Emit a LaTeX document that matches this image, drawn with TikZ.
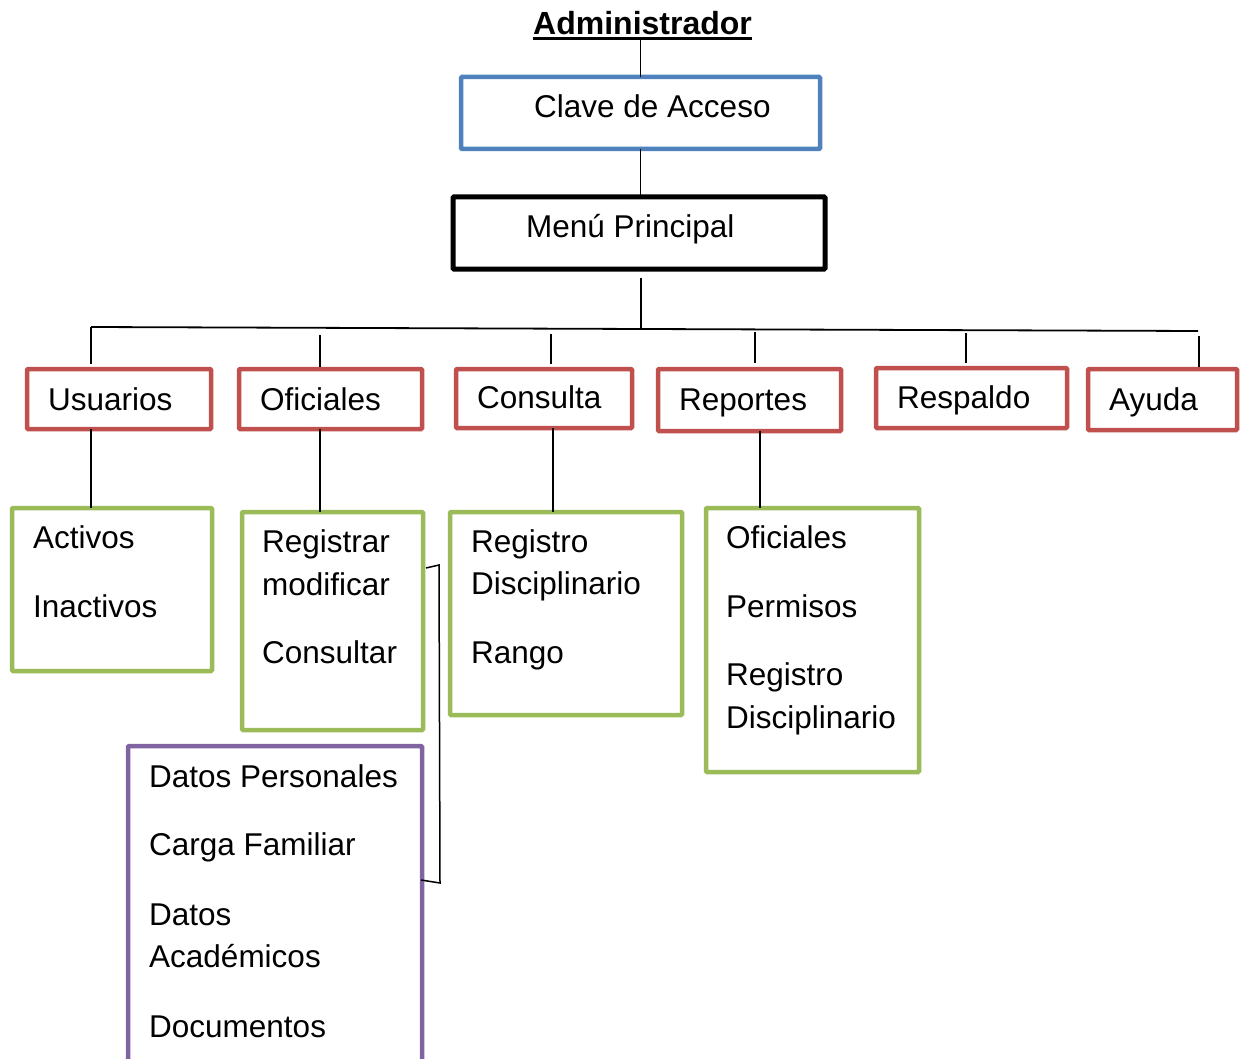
\documentclass[tikz,border=0pt]{standalone}
\usepackage{fontspec}
\setmainfont{Liberation Sans}
\definecolor{cblue}{HTML}{4F81BD}
\definecolor{cred}{HTML}{C0504D}
\definecolor{cgreen}{HTML}{9BBB59}
\definecolor{cpurple}{HTML}{8064A2}
\begin{document}
\begin{tikzpicture}[x=1pt,y=-1pt,
  box/.style={draw,line width=4.5pt,inner sep=0pt,outer sep=0pt,anchor=north west,rounded corners=1pt},
  lbl/.style={anchor=base west,inner sep=0pt,font=\fontsize{31.5}{38}\selectfont},
  conn/.style={line width=1.8pt}]
\useasboundingbox (0,0) rectangle (1241,1059);
% boxes
\node[box,draw=cblue,minimum width=359pt,minimum height=72pt] (clave) at (461,77) {};
\node[box,draw=black,line width=5pt,minimum width=372pt,minimum height=72pt] (menu) at (453,197) {};
\node[box,draw=cred,minimum width=184pt,minimum height=60pt] (usr) at (27,369) {};
\node[box,draw=cred,minimum width=183pt,minimum height=60pt] (ofi) at (239,369) {};
\node[box,draw=cred,minimum width=176pt,minimum height=59pt] (con) at (456,369) {};
\node[box,draw=cred,minimum width=183pt,minimum height=62pt] (rep) at (658,369) {};
\node[box,draw=cred,minimum width=191pt,minimum height=60pt] (res) at (876,368) {};
\node[box,draw=cred,minimum width=149pt,minimum height=61pt] (ayu) at (1088,369) {};
\node[box,draw=cgreen,minimum width=200pt,minimum height=163pt] (g1) at (12,508) {};
\node[box,draw=cgreen,minimum width=181pt,minimum height=218pt] (g2) at (242,512) {};
\node[box,draw=cgreen,minimum width=232pt,minimum height=203pt] (g3) at (450,512) {};
\node[box,draw=cgreen,minimum width=213pt,minimum height=264pt] (g4) at (706,508) {};
\node[box,draw=cpurple,minimum width=294pt,minimum height=330pt] (pur) at (128,746) {};
% title
\node[lbl,font=\bfseries\fontsize{32}{38}\selectfont] (adm) at (533,35) {Administrador};
\draw[line width=3pt] ([yshift=-4pt]adm.base west) -- ([yshift=-4pt]adm.base east);
% labels
\node[lbl] (tclave) at (534,118) {Clave de Acceso};
\node[lbl] (tmenu) at (526,237) {Menú Principal};
\node[lbl] (tusr) at (48,410) {Usuarios};
\node[lbl] (tofi) at (260,410) {Oficiales};
\node[lbl] (tcon) at (477,408) {Consulta};
\node[lbl] (trep) at (679,410) {Reportes};
\node[lbl] (tres) at (897,408) {Respaldo};
\node[lbl] (tayu) at (1109,410) {Ayuda};
\node[lbl] (g1a) at (33,548) {Activos};
\node[lbl] (g1b) at (33,617) {Inactivos};
\node[lbl] (g2a) at (262,552) {Registrar};
\node[lbl] (g2b) at (262,595) {modificar};
\node[lbl] (g2c) at (262,663) {Consultar};
\node[lbl] (g3a) at (471,552) {Registro};
\node[lbl] (g3b) at (471,594) {Disciplinario};
\node[lbl] (g3c) at (471,663) {Rango};
\node[lbl] (g4a) at (726,548) {Oficiales};
\node[lbl] (g4b) at (726,617) {Permisos};
\node[lbl] (g4c) at (726,685) {Registro};
\node[lbl] (g4d) at (726,728) {Disciplinario};
\node[lbl] (p1) at (149,787) {Datos Personales};
\node[lbl] (p2) at (149,855) {Carga Familiar};
\node[lbl] (p3) at (149,925) {Datos};
\node[lbl] (p4) at (149,967) {Académicos};
\node[lbl] (p5) at (149,1037) {Documentos};
% coordinates
\coordinate (busL) at (91,327);
\coordinate (busR) at (1198,331);
\coordinate (busM) at (641,329);
\coordinate (tOfi) at (320,335);
\coordinate (tCon) at (551,334);
\coordinate (tRep) at (755,332);
\coordinate (tRes) at (966,333);
\coordinate (tAyu) at (1199,336);
\coordinate (xU) at (91,0);
\coordinate (xO) at (320,0);
\coordinate (xC) at (553,0);
\coordinate (xR) at (760,0);
\coordinate (b1) at (426,568);
\coordinate (b2) at (439,565);
\coordinate (b3) at (440,883);
\coordinate (b4) at (421,880);
% connectors
\draw[conn] ([yshift=-5pt]adm.base -| clave.north) -- (clave.north);
\draw[conn] (clave.south) -- ([yshift=-2pt]clave.south |- menu.north);
\draw[conn] ([yshift=-9pt]menu.south -| busM) -- (busM);
\draw[conn] (busL) -- (busR);
\draw[conn] (busL) -- ([yshift=5pt]busL |- usr.north);
\draw[conn] (tOfi) -- ([yshift=2pt]tOfi |- ofi.north);
\draw[conn] (tCon) -- ([yshift=5pt]tCon |- con.north);
\draw[conn] (tRep) -- ([yshift=6pt]tRep |- rep.north);
\draw[conn] (tRes) -- ([yshift=5pt]tRes |- res.north);
\draw[conn] (tAyu) -- ([yshift=2pt]tAyu |- ayu.north);
\draw[conn] (usr.south -| xU) -- (g1.north -| xU);
\draw[conn] (ofi.south -| xO) -- (g2.north -| xO);
\draw[conn] (con.south -| xC) -- (g3.north -| xC);
\draw[conn] (rep.south -| xR) -- (g4.north -| xR);
\draw[line width=1.5pt] (b1) -- (b2) -- (b3) -- (b4);
\end{tikzpicture}
\end{document}
